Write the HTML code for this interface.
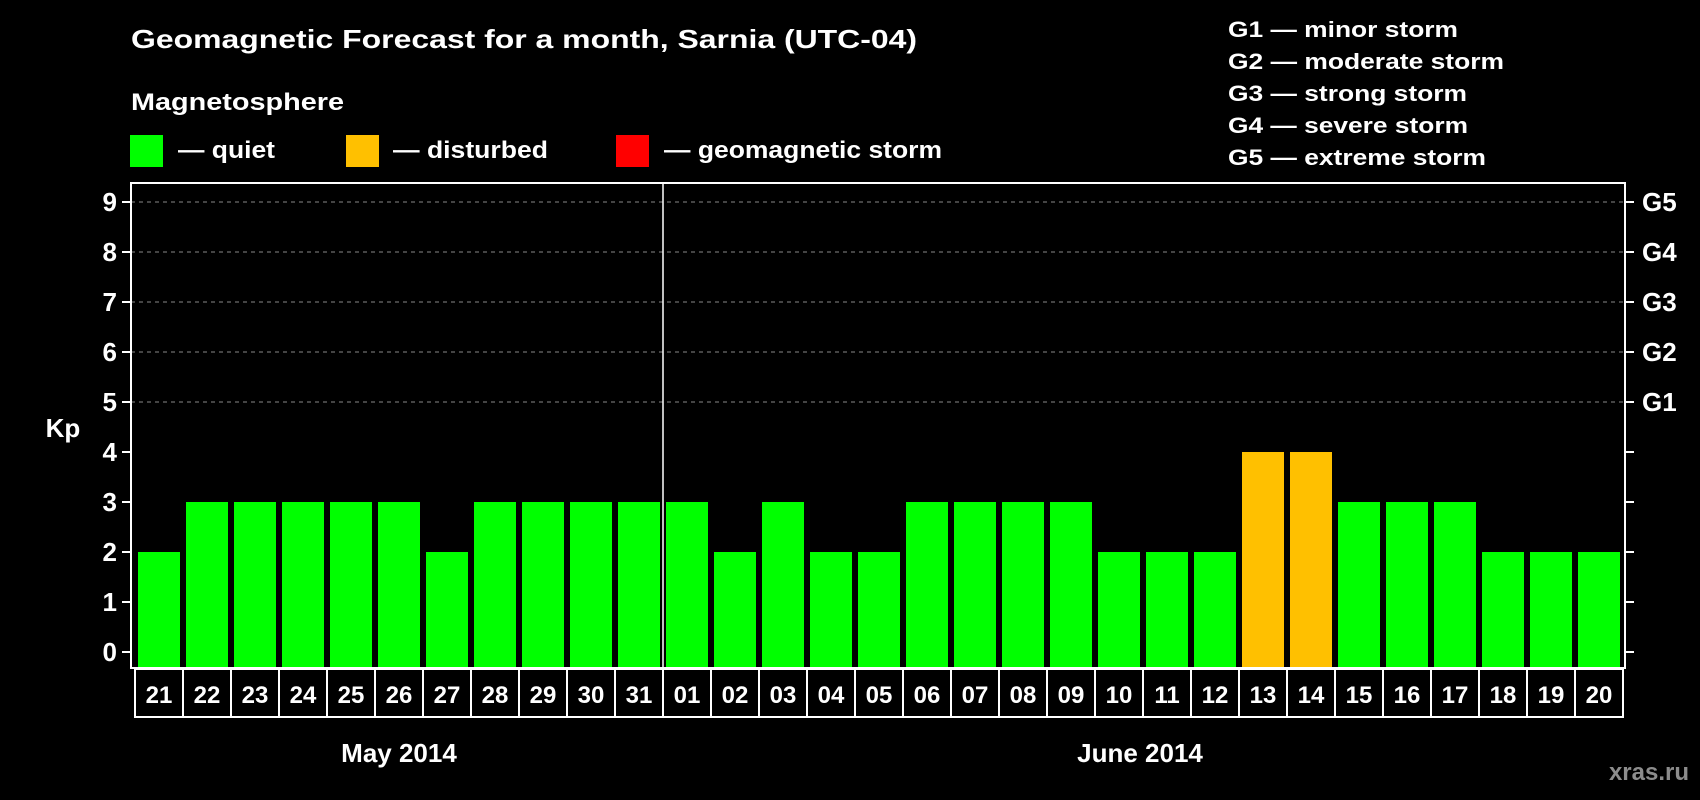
<!DOCTYPE html>
<html><head><meta charset="utf-8"><style>
html,body{margin:0;padding:0;background:#000;width:1700px;height:800px;overflow:hidden}
svg text{font-family:"Liberation Sans",Arial,sans-serif;font-weight:bold;fill:#fff}
</style></head><body>
<svg id="chart" width="1700" height="800" viewBox="0 0 1700 800" xmlns="http://www.w3.org/2000/svg">
<rect width="1700" height="800" fill="#000"/>
<text x="131" y="48" font-size="26" textLength="786" lengthAdjust="spacingAndGlyphs">Geomagnetic Forecast for a month, Sarnia (UTC-04)</text>
<text x="131" y="110" font-size="24" textLength="213" lengthAdjust="spacingAndGlyphs">Magnetosphere</text>
<g><rect x="130" y="135" width="33" height="32" fill="#00ff00"/><text x="178" y="158" font-size="24" textLength="97" lengthAdjust="spacingAndGlyphs">— quiet</text></g>
<g><rect x="346" y="135" width="33" height="32" fill="#ffc000"/><text x="393" y="158" font-size="24" textLength="155" lengthAdjust="spacingAndGlyphs">— disturbed</text></g>
<g><rect x="616" y="135" width="33" height="32" fill="#ff0000"/><text x="664" y="158" font-size="24" textLength="278" lengthAdjust="spacingAndGlyphs">— geomagnetic storm</text></g>
<g font-size="22">
<text x="1228" y="37" textLength="230" lengthAdjust="spacingAndGlyphs">G1 — minor storm</text>
<text x="1228" y="69" textLength="276" lengthAdjust="spacingAndGlyphs">G2 — moderate storm</text>
<text x="1228" y="101" textLength="239" lengthAdjust="spacingAndGlyphs">G3 — strong storm</text>
<text x="1228" y="133" textLength="240" lengthAdjust="spacingAndGlyphs">G4 — severe storm</text>
<text x="1228" y="165" textLength="258" lengthAdjust="spacingAndGlyphs">G5 — extreme storm</text>
</g>
<g id="grid"></g><g id="bars"></g><g id="axes"></g>
<text x="63" y="437" font-size="26" text-anchor="middle">Kp</text>
<text x="399" y="762" font-size="26" text-anchor="middle">May 2014</text>
<text x="1140" y="762" font-size="26" text-anchor="middle">June 2014</text>
<text x="1689" y="780" font-size="24" text-anchor="end" style="fill:#8c8c8c">xras.ru</text>
</svg>
<script>
const days=["21","22","23","24","25","26","27","28","29","30","31","01","02","03","04","05","06","07","08","09","10","11","12","13","14","15","16","17","18","19","20"];
const kp=[2,3,3,3,3,3,2,3,3,3,3,3,2,3,2,2,3,3,3,3,2,2,2,4,4,3,3,3,2,2,2];
const yTicks=[0,1,2,3,4,5,6,7,8,9];
const gLabels=["G1","G2","G3","G4","G5"];
const NS="http://www.w3.org/2000/svg";
const L=131,R=1625,T=183,B=668,Y0=652,Y9=202;
const yS=v=>Y0-(v)*(Y0-Y9)/9;
const pitch=48,bx0=138,bw=42;
const xS=i=>bx0+i*pitch;
function mk(tag,attrs,parent){const e=document.createElementNS(NS,tag);for(const k in attrs)e.setAttribute(k,attrs[k]);parent.appendChild(e);return e;}
const grid=document.getElementById('grid'),bars=document.getElementById('bars'),axes=document.getElementById('axes');
yTicks.forEach(v=>{
  const y=yS(v);
  if(v>=5){const g=mk('line',{x1:L,x2:R,y1:y,y2:y,stroke:'#888','stroke-dasharray':'4,4','stroke-width':1},grid);
    
    }
  mk('line',{x1:L-9,x2:L,y1:y,y2:y,stroke:'#fff','stroke-width':2},axes);
  mk('line',{x1:R,x2:R+9,y1:y,y2:y,stroke:'#fff','stroke-width':2},axes);
  const t=mk('text',{x:L-14,y:y+9,'font-size':26,'text-anchor':'end'},axes);t.textContent=v;
  
  
});
gLabels.forEach((g,i)=>{const t=mk('text',{x:1642,y:yS(5+i)+9,'font-size':26},axes);t.textContent=g;
  
  });
kp.forEach((v,i)=>{
  const r=mk('rect',{x:xS(i),y:yS(v),width:bw,height:Y0+(B-Y0)-yS(v)-1,fill:v>=5?'#ff0000':(v>=4?'#ffc000':'#00ff00')},bars);
  
  
  const bl=xS(i)-3;
  mk('rect',{x:bl,y:669,width:pitch,height:48,fill:'none',stroke:'#fff','stroke-width':2},axes);
  const t=mk('text',{x:bl+pitch/2,y:703,'font-size':24,'text-anchor':'middle'},axes);t.textContent=days[i];
  
  
});
const fr=mk('rect',{x:L,y:T,width:R-L,height:B-T,fill:'none',stroke:'#fff','stroke-width':2},axes);


const sep=xS(days.indexOf("01"))-3;
const sl=mk('line',{x1:sep,x2:sep,y1:T,y2:B,stroke:'#fff','stroke-width':1.5},axes);


</script>
</body></html>
